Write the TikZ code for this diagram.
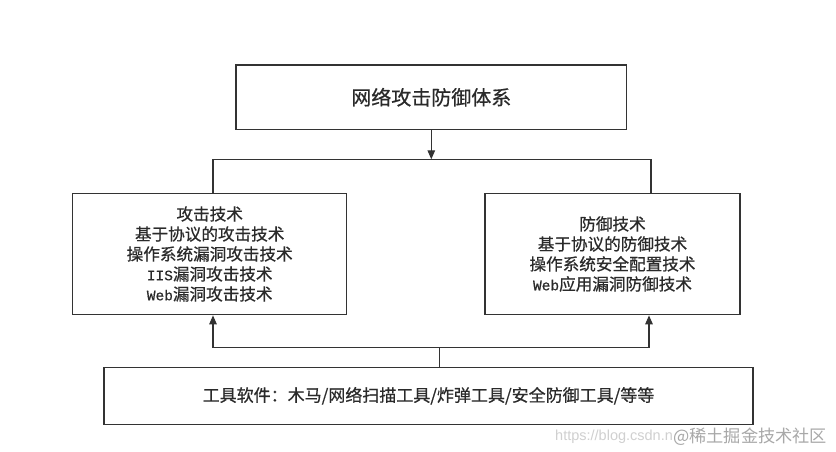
\documentclass[tikz,border=0pt]{standalone}
\usepackage{fontspec}
\setmainfont{Noto Sans CJK SC}[FakeBold=0.6]
\newfontfamily\monolat{Liberation Mono}[FakeBold=0.6]
\newfontfamily\wmsans{Liberation Sans}
\newfontfamily\wmcjk{Noto Sans CJK SC}
\usetikzlibrary{arrows.meta}
\definecolor{linegray}{HTML}{333333}
\definecolor{txtgray}{HTML}{2A2A2A}
\definecolor{wmlight}{HTML}{D0D0D0}
\definecolor{wmdark}{HTML}{A8A8A8}
\begin{document}
\begin{tikzpicture}[x=1pt,y=-1pt,
  box/.style={draw=linegray, line width=1.3pt, inner sep=0pt, text=txtgray, align=center},
  conn/.style={draw=linegray, line width=1.2pt},
  arr/.style={conn, -{Triangle[length=9pt,width=7.5pt]}},
  mainfont/.style={font=\fontsize{16.6}{20}\selectfont}]
\useasboundingbox[fill=white] (0,0) rectangle (836,452);

\node[box, minimum width=390.7pt, minimum height=64.3pt,
      font=\fontsize{20}{22}\selectfont] (top) at (431.3,97.2) {网络攻击防御体系};

\node[box, mainfont, minimum width=274pt, minimum height=121.4pt] (atk) at (209.7,254)
  {攻击技术\\基于协议的攻击技术\\操作系统漏洞攻击技术\\{\monolat\fontsize{14.5}{20}\selectfont IIS}漏洞攻击技术\\{\monolat\fontsize{14.5}{20}\selectfont Web}漏洞攻击技术};

\node[box, mainfont, minimum width=255pt, minimum height=121.4pt] (def) at (612.5,254)
  {防御技术\\基于协议的防御技术\\操作系统安全配置技术\\{\monolat\fontsize{14.5}{20}\selectfont Web}应用漏洞防御技术};

\node[box, minimum width=649pt, minimum height=57.3pt, font=\fontsize{17}{20}\selectfont] (tool) at (428.5,395.8)
  {工具软件：木马/网络扫描工具/炸弹工具/安全防御工具/等等};

% top split
\coordinate (tsplit) at (431.3,159.3);
\coordinate (tl) at (213,159.3);
\coordinate (tr) at (651,159.3);
\draw[arr] (top.south) -- (tsplit);
\draw[conn] (atk.north -| tl) -- (tl) -- (tr) -- (def.north -| tr);

% bottom join
\coordinate (bjoin) at (439.3,347.5);
\coordinate (bl) at (213,347.5);
\coordinate (br) at (649,347.5);
\draw[conn] (tool.north -| bjoin) -- (bjoin);
\draw[conn] (bl) -- (br);
\draw[arr] (bl) -- (atk.south -| bl);
\draw[arr] (br) -- (def.south -| br);

% watermark
\node[anchor=west, inner sep=0pt, text=wmlight, font=\wmsans\fontsize{14.5}{16}\selectfont] (wm1) at (555,437) {https://blog.csdn.n};
\node[anchor=west, inner sep=0pt, text=wmdark, font=\wmcjk\fontsize{17.2}{20}\selectfont] (wm2) at (wm1.east) {@稀土掘金技术社区};
\end{tikzpicture}
\end{document}
